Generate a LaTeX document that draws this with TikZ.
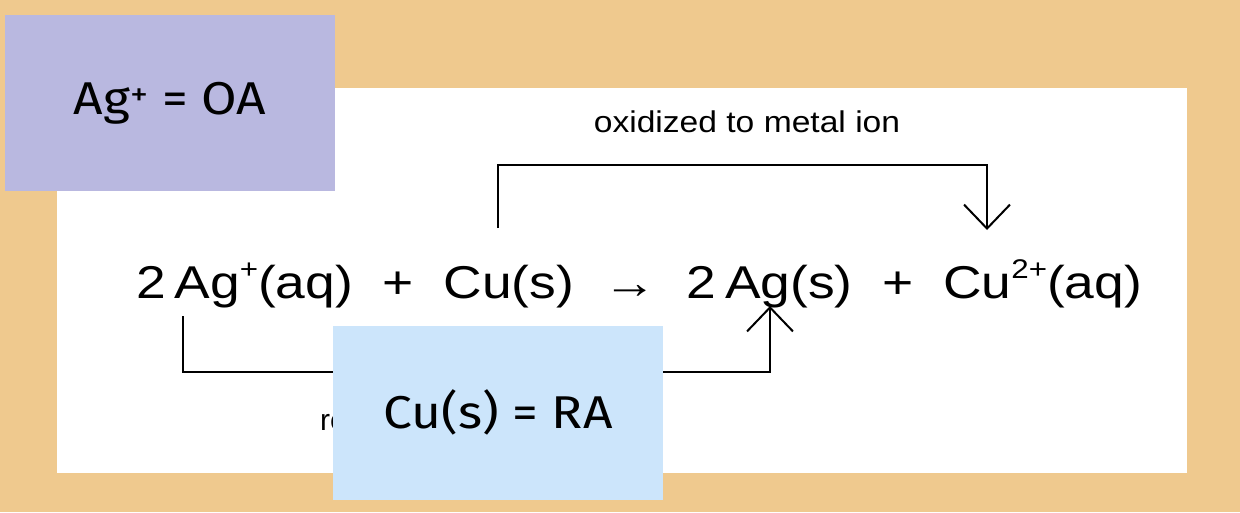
\documentclass[tikz,border=0pt]{standalone}
\usepackage{fontspec}
\setmainfont{Liberation Sans}
\newfontfamily\boxfont{Fira Sans}
\usetikzlibrary{arrows.meta}
\definecolor{bgtan}{HTML}{EFC98E}
\definecolor{oabox}{HTML}{B9B8E0}
\definecolor{rabox}{HTML}{CCE5FB}
\newcommand{\supr}[1]{\raisebox{0.42em}{\fontsize{27}{32}\selectfont #1}}
\tikzset{
  px/.style={x=1pt,y=-1pt},
  bracket/.style={line width=2pt,-{Straight Barb[length=24pt,width=46pt,line width=2pt]}},
  tag/.style={font=\fontsize{46}{54}\selectfont\boxfont,inner sep=0pt,anchor=center},
  lbl/.style={font=\fontsize{30}{36}\selectfont,inner sep=0pt}
}
\begin{document}
\begin{tikzpicture}[px]
\fill[bgtan] (0,0) rectangle (1240,512);
\useasboundingbox (0,0) rectangle (1240,512);
\fill[white] (57,88) rectangle (1187,473);
\node[inner sep=0pt,anchor=base,font=\fontsize{46}{54}\selectfont] (eq) at (639,298)
  {\scalebox{1.16}[1]{2\,Ag\supr{+}(aq) \ +\ \ Cu(s) \ → \ 2\,Ag(s) \ +\ \ Cu\supr{2+}(aq)}};
\coordinate (o1) at (498,228);
\coordinate (o2) at (987,230);
\coordinate (r1) at (183,316);
\coordinate (r2) at (770,306);
\draw[bracket] (o1) -- (498,165) -- (987,165) -- (o2);
\draw[bracket] (r1) -- (183,372) -- (770,372) -- (r2);
\node[lbl] (ox) at (747,122) {\scalebox{1.12}[1]{oxidized to metal ion}};
\node[lbl,anchor=west] (red) at (320,420) {reduced to metal};
\fill[oabox] (5,15) rectangle (335,191);
\node[tag] (oa) at (170,103) {\scalebox{1.12}[1]{Ag\textsuperscript{+} = OA}};
\fill[rabox] (333,326) rectangle (663,500);
\node[tag] (ra) at (498,412) {\scalebox{1.12}[1]{Cu(s) = RA}};
\end{tikzpicture}
\end{document}
